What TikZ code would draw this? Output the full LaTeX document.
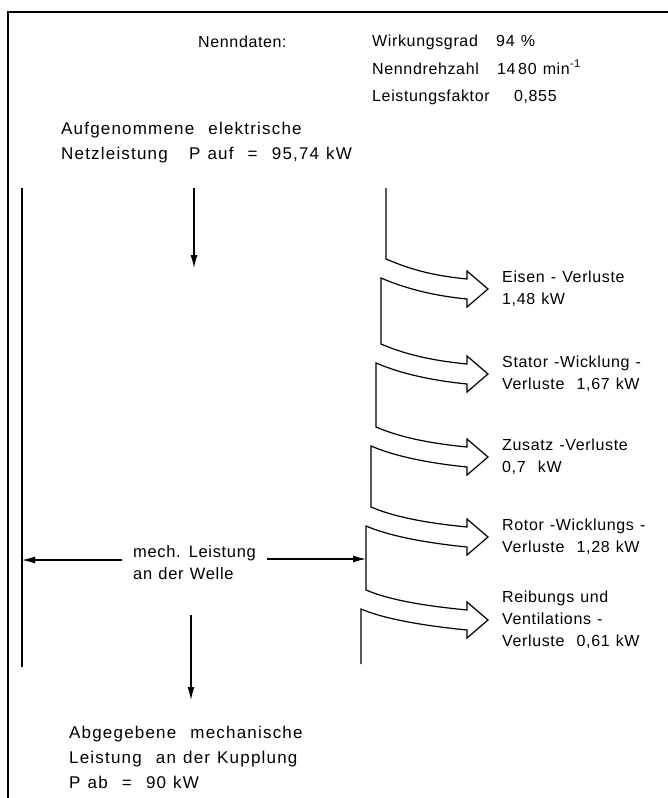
\documentclass[tikz,border=0pt]{standalone}
\usepackage{fontspec}
\setmainfont{Liberation Sans}[LetterSpace=4,WordSpace=1.2]
\usepackage{tikz}
\usetikzlibrary{
arrows.meta,
positioning,
calc
}

\tikzset{
  txt/.style={inner sep=0pt,align=left,font=\fontsize{16}{22}\selectfont},
  big/.style={txt,font=\fontsize{17}{24}\selectfont\addfontfeatures{LetterSpace=7}},
  flow/.style={line width=1.2pt,-{Latex[length=13pt,width=7pt]}},
  band/.style={line width=1.2pt,line join=miter},
  frame/.style={line width=1.8pt}
}

\begin{document}
\begin{tikzpicture}[x=1pt,y=-1pt]
  \useasboundingbox (0,0) rectangle (668,798);
  \draw[frame] (8,798) -- (8,12) -- (668,12);

  % Nenndaten
  \node[txt,anchor=base west] (nenn) at (198,47) {Nenndaten:};
  \node[txt,anchor=base west] (eta) at (372,46) {Wirkungsgrad~~ 94 \%};
  \node[txt,anchor=base west] (speed) at (372,74) {Nenndrehzahl~~ 14\,80 min\textsuperscript{-1}};
  \node[txt,anchor=base west] (cosphi) at (372,101) {Leistungsfaktor~~~ 0,855};

  \node[big,anchor=west] (pin) at (61,143) {Aufgenommene~ elektrische\\[1pt]Netzleistung~~ P auf~ =~ 95,74 kW};

  % Leistungsfluss
  \coordinate (shaftTop) at (22,188);
  \coordinate (shaftBot) at (22,667);
  \coordinate (inTop) at (194,188);
  \coordinate (inTip) at (194,268);
  \coordinate (bandTop) at (386,188);
  \coordinate (bandIn) at (366,559);
  \draw[band] (shaftTop) -- (shaftBot);
  \draw[flow] (inTop) -- (inTip);

  \draw[band] (bandTop)
    foreach \t/\xa/\xb/\yn in {289/386/381/344,374/381/376/427,457/376/371/507,537/371/366/590,620/366/361/664}{
      -- (\xa,\t-30) .. controls +(28,12) and +(-30,-3) .. (467,\t-10)
      -- (467,\t-18) -- (488,\t) -- (467,\t+18) -- (467,\t+10)
      .. controls +(-30,-3) and +(28,12) .. (\xb,\t-11) -- (\xb,\yn)
    };

  \foreach \t [count=\i] in {289,374,457,537,620}
    \coordinate (tip\i) at (488,\t);

  \node[txt,anchor=west,right=14pt of tip1] (iron) {Eisen - Verluste\\1,48 kW};
  \node[txt,anchor=west,right=14pt of tip2] (stator) {Stator -Wicklung -\\Verluste~ 1,67 kW};
  \node[txt,anchor=west,right=14pt of tip3] (extra) {Zusatz -Verluste\\0,7~ kW};
  \node[txt,anchor=west,right=14pt of tip4] (rotor) {Rotor -Wicklungs -\\Verluste~ 1,28 kW};
  \node[txt,anchor=west,right=14pt of tip5] (fric) {Reibungs und\\Ventilations -\\Verluste~ 0,61 kW};

  % Welle
  \node[txt,inner xsep=11pt,anchor=west,font=\fontsize{16.5}{22}\selectfont] (mech) at (122,563) {mech. Leistung\\an der Welle};
  \draw[flow] (mech.west |- 0,560) -- (shaftTop |- 0,560);
  \draw[flow] (mech.east |- 0,559) -- (bandIn);

  \coordinate (outTop) at (191,615);
  \coordinate (outTip) at (191,700);
  \draw[flow] (outTop) -- (outTip);
  \node[big,anchor=west] (pout) at (69,757) {Abgegebene~ mechanische\\[1pt]Leistung~ an der Kupplung\\[1pt]P ab~ =~ 90 kW};
\end{tikzpicture}
\end{document}
